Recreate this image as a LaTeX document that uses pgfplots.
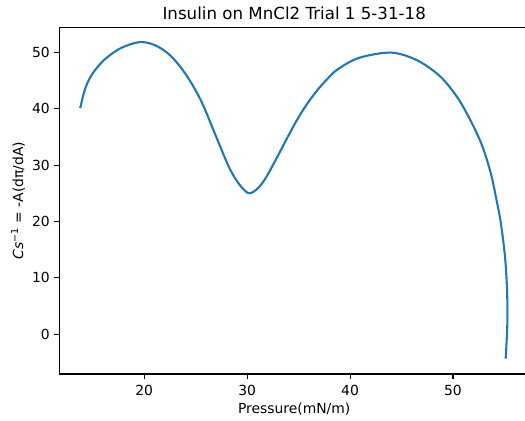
\documentclass[border=0pt]{standalone}
\usepackage{pgfplots}
\pgfplotsset{compat=1.18}
\usepackage{fontspec}
\setmainfont{DejaVu Sans}
\definecolor{mplblue}{HTML}{1F77B4}

\begin{document}
\begin{tikzpicture}
\useasboundingbox (-42.7pt,-33.6pt) rectangle (335.3pt,269.3pt);
\begin{axis}[
    at={(0,0)}, anchor=south west,
    scale only axis, width=338.3pt, height=249.6pt,
    xmin=11.75, xmax=57.4, ymin=-7.04, ymax=54.43,
    xtick={20,30,40,50}, ytick={0,10,20,30,40,50},
    tick align=outside, xtick pos=left, ytick pos=left,
    major tick length=3.5pt,
    every tick/.style={black, line width=0.8pt},
    axis line style={line width=0.8pt},
    /pgf/number format/assume math mode=true,
    tick label style={font=\fontsize{10}{12}\selectfont, text=black},
    xticklabel style={anchor=north, inner sep=0pt, yshift=-4.1pt},
    yticklabel style={anchor=east, inner sep=0pt, xshift=-3.2pt},
    title={Insulin on MnCl2 Trial 1 5-31-18},
    title style={at={(0.5,1)}, anchor=base, yshift=-0.5pt,
        font=\fontsize{12}{14}\selectfont},
    xlabel={Pressure(mN/m)},
    xlabel style={at={(axis description cs:0.5,-0.1022)}, anchor=center,
        font=\fontsize{10}{12}\selectfont},
    ylabel={\textit{Cs}\textsuperscript{−1} = -A(dπ/dA)},
    ylabel style={at={(axis description cs:-0.0878,0.5)}, anchor=center,
        font=\fontsize{10}{12}\selectfont},
]
% compressibility modulus vs surface pressure
\addplot[mplblue, line width=1.5pt, smooth, tension=0.55] coordinates {
    (13.78,40.1) (14.2,43.2) (14.65,45.2) (15.2,46.8) (16.2,48.8)
    (17.67,50.7) (19.5,51.8) (21.0,51.3) (22.5,49.5) (24.0,46.2)
    (25.5,41.5) (27.0,35.0) (28.0,30.6) (28.5,28.7) (29.0,27.2)
    (29.5,26.0) (30.1,25.05) (30.6,25.25) (31.2,26.2) (31.8,27.7)
    (32.5,30.0) (33.2,32.4) (34.0,35.2) (34.84,38.0) (35.8,40.8)
    (36.78,43.2) (37.7,45.1) (38.73,46.9) (40.67,48.9) (43.26,49.9)
    (44.88,49.7) (46.82,48.3) (48.77,45.7) (50.39,42.1) (51.68,38.0)
    (52.82,33.5) (53.68,28.5) (54.23,23.8) (54.65,19.7) (55.05,13.8)
    (55.25,7.9) (55.28,2.0) (55.12,-4.3)
};
\end{axis}
\end{tikzpicture}
\end{document}
